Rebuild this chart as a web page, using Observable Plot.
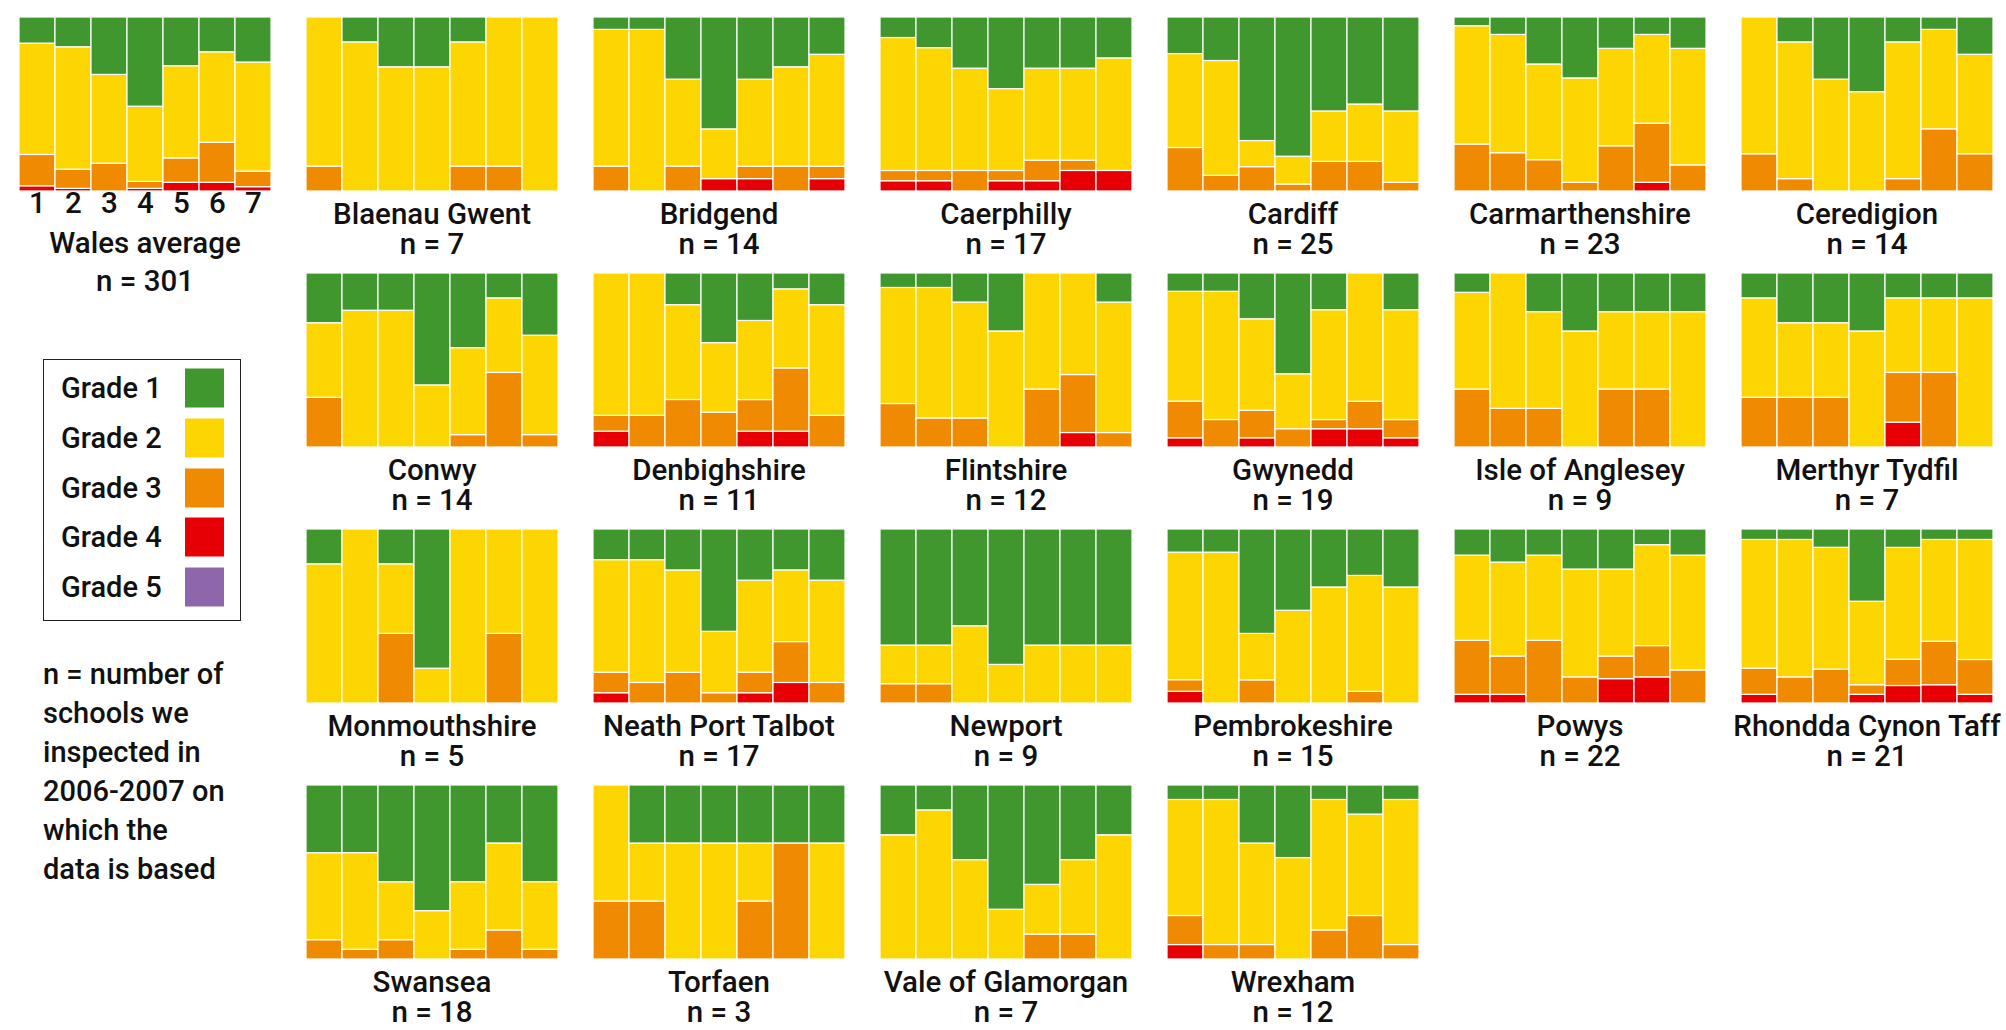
<!DOCTYPE html>
<html>
<head>
<meta charset="utf-8">
<script src="https://cdn.jsdelivr.net/npm/d3@7"></script>
<script src="https://cdn.jsdelivr.net/npm/@observablehq/plot@0.6"></script>
<style>
  html, body { margin: 0; padding: 0; background: #fff; }
  #wrap { position: relative; width: 2006px; height: 1030px; font-family: Roboto, "Noto Sans", sans-serif; font-weight: 500; color: #111; }
  #chart { position: absolute; left: 0; top: 0; }
  #legend { position: absolute; left: 43px; top: 359px; width: 198px; height: 262px; border: 1.5px solid #222; box-sizing: border-box; }
  .lg-text { position: absolute; left: 17px; font-size: 29px; line-height: 30px; transform: translateY(-50%); }
  .lg-sw { position: absolute; left: 141px; width: 39px; height: 39px; transform: translateY(-50%); }
  #note { position: absolute; left: 43px; top: 655px; font-size: 29px; line-height: 39px; }
</style>
</head>
<body>
<div id="wrap">
  <div id="chart"></div>
  <div id="legend"></div>
  <div id="note"></div>
</div>
<script>
// ---------- DATA ----------
const areas = ["Wales average","Blaenau Gwent","Bridgend","Caerphilly","Cardiff","Carmarthenshire","Ceredigion",
  "Conwy","Denbighshire","Flintshire","Gwynedd","Isle of Anglesey","Merthyr Tydfil",
  "Monmouthshire","Neath Port Talbot","Newport","Pembrokeshire","Powys","Rhondda Cynon Taff",
  "Swansea","Torfaen","Vale of Glamorgan","Wrexham"];
const schools = [301,7,14,17,25,23,14,14,11,12,19,9,7,5,17,9,15,22,21,18,3,7,12];
const inspectionAreas = [1,2,3,4,5,6,7];
const gradeNames = ["Grade 1","Grade 2","Grade 3","Grade 4","Grade 5"];
const gradeColors = ["#3f972d","#fdd500","#f08a00","#e60005","#8e66ac"];
const noteLines = ["n = number of","schools we","inspected in","2006-2007 on","which the","data is based"];

// percentage of schools per inspection area (1..7), one row per area
const grade1 = [
  [15,17,33,51,28,20,26],
  [0,14.3,28.6,28.6,14.3,0,0],
  [7.1,7.1,35.7,64.3,35.7,28.6,21.4],
  [11.8,17.6,29.4,41.2,29.4,29.4,23.5],
  [21,25,71,80,54,50,54],
  [5,10,27,35,18,10,18],
  [0,14.3,35.7,42.9,14.3,7.1,21.4],
  [28.6,21.4,21.4,64.3,42.9,14.3,35.7],
  [0,0,18.2,40,27.3,9.1,18.2],
  [8.3,8.3,16.7,33.3,0,0,16.7],
  [10.5,10.5,26.3,57.9,21.1,0,21.1],
  [11.1,0,22.2,33.3,22.2,22.2,22.2],
  [14.3,28.6,28.6,33.3,14.3,14.3,14.3],
  [20,0,20,80,0,0,0],
  [17.6,17.6,23.5,58.8,29.4,23.5,29.4],
  [66.7,66.7,55.6,77.8,66.7,66.7,66.7],
  [13.3,13.3,60,46.7,33.3,26.7,33.3],
  [15,19,15,23,23,9,15],
  [6,6,10.5,41.5,10.5,6,6],
  [38.9,38.9,55.6,72.2,55.6,33.3,55.6],
  [0,33.3,33.3,33.3,33.3,33.3,33.3],
  [28.6,14.3,42.9,71.4,57.1,42.9,28.6],
  [8.3,8.3,33.3,41.7,8.3,16.7,8.3]
];
const grade2 = [
  [64,70,51,43,53,52,63],
  [85.7,85.7,71.4,71.4,71.4,85.7,100],
  [78.6,92.9,50,28.6,50,57.1,64.3],
  [76.5,70.6,58.8,47.1,52.9,52.9,64.7],
  [54,66,15,16,29,33,41],
  [68,68,55,60,56,51,67],
  [78.6,78.6,64.3,57.1,78.6,57.1,57.1],
  [42.9,78.6,78.6,35.7,50,42.9,57.1],
  [81.8,81.8,54.5,40,45.5,45.5,63.6],
  [66.7,75,66.7,66.7,66.7,58.3,75],
  [63.2,73.7,52.6,31.6,63.2,73.7,63.2],
  [55.6,77.8,55.6,66.7,44.4,44.4,77.8],
  [57.1,42.9,42.9,66.7,42.9,42.9,85.7],
  [80,100,40,20,100,60,100],
  [64.7,70.6,58.8,35.3,52.9,41.2,58.8],
  [22.2,22.2,44.4,22.2,33.3,33.3,33.3],
  [73.3,86.7,26.7,53.3,66.7,66.7,66.7],
  [49,54,49,62,50,58,66],
  [74,79,70,48,64,58.5,69],
  [50,55.6,33.3,27.8,38.9,50,38.9],
  [66.7,33.3,66.7,66.7,33.3,0,66.7],
  [71.4,85.7,57.1,28.6,28.6,42.9,71.4],
  [66.7,83.3,58.3,58.3,75,58.3,83.3]
];
const grade3 = [
  [18,11,16,4,14,23,9],
  [14.3,0,0,0,14.3,14.3,0],
  [14.3,0,14.3,0,7.1,14.3,7.1],
  [5.9,5.9,11.8,5.9,11.8,5.9,0],
  [25,9,14,4,17,17,5],
  [27,22,18,5,26,34,15],
  [21.4,7.1,0,0,7.1,35.7,21.4],
  [28.6,0,0,0,7.1,42.9,7.1],
  [9.1,18.2,27.3,20,18.2,36.4,18.2],
  [25,16.7,16.7,0,33.3,33.3,8.3],
  [21.1,15.8,15.8,10.5,5.3,15.8,10.5],
  [33.3,22.2,22.2,0,33.3,33.3,0],
  [28.6,28.6,28.6,0,28.6,42.9,0],
  [0,0,40,0,0,40,0],
  [11.8,11.8,17.6,5.9,11.8,23.5,11.8],
  [11.1,11.1,0,0,0,0,0],
  [6.7,0,13.3,0,0,6.7,0],
  [31,22,36,15,13,18,19],
  [15,15,19.5,5.5,15,25,20],
  [11.1,5.6,11.1,0,5.6,16.7,5.6],
  [33.3,33.3,0,0,33.3,66.7,0],
  [0,0,0,0,14.3,14.3,0],
  [16.7,8.3,8.3,0,16.7,25,8.3]
];
const grade4 = [
  [3,1.5,0,1.5,5,5,2.5],
  [0,0,0,0,0,0,0],
  [0,0,0,7.1,7.1,0,7.1],
  [5.9,5.9,0,5.9,5.9,11.8,11.8],
  [0,0,0,0,0,0,0],
  [0,0,0,0,0,5,0],
  [0,0,0,0,0,0,0],
  [0,0,0,0,0,0,0],
  [9.1,0,0,0,9.1,9.1,0],
  [0,0,0,0,0,8.3,0],
  [5.3,0,5.3,0,10.5,10.5,5.3],
  [0,0,0,0,0,0,0],
  [0,0,0,0,14.3,0,0],
  [0,0,0,0,0,0,0],
  [5.9,0,0,0,5.9,11.8,0],
  [0,0,0,0,0,0,0],
  [6.7,0,0,0,0,0,0],
  [5,5,0,0,14,15,0],
  [5,0,0,5,10,10.5,5],
  [0,0,0,0,0,0,0],
  [0,0,0,0,0,0,0],
  [0,0,0,0,0,0,0],
  [8.3,0,0,0,0,0,0]
];
const grade5 = areas.map(() => [0,0,0,0,0,0,0]);

// ---------- BUILD ----------
const grades = [grade1, grade2, grade3, grade4, grade5];
const col = i => i === 0 ? 0 : ((i - 1) % 6) + 1;
const row = i => i === 0 ? 0 : Math.floor((i - 1) / 6);

const cells = [];
areas.forEach((area, i) => {
  inspectionAreas.forEach((ia, j) => {
    // bottom-up: grade 5 first so grade 1 ends on top
    for (let g = 4; g >= 0; g--) {
      const v = grades[g][i][j];
      if (v > 0) cells.push({area, c: col(i), r: row(i), ia, grade: gradeNames[g], value: v});
    }
  });
});

const labels = areas.map((a, i) => ({a, n: schools[i], c: col(i), r: row(i), i}));
const wales = labels.filter(d => d.i === 0);
const others = labels.filter(d => d.i !== 0);
const fontSize = 29.5;

const chart = Plot.plot({
  width: 2006,
  height: 1030,
  marginLeft: 13,
  marginRight: 7,
  marginTop: 15,
  marginBottom: 69,
  style: {fontFamily: "Roboto, 'Noto Sans', sans-serif", fontWeight: 500, background: "white", color: "#111"},
  fx: {domain: d3.range(7), paddingInner: 0.104, paddingOuter: 0, axis: null},
  fy: {domain: d3.range(4), paddingInner: 0.319, paddingOuter: 0, axis: null},
  x: {domain: inspectionAreas, padding: 0, axis: null},
  y: {domain: [0, 1], axis: null},
  color: {domain: gradeNames, range: gradeColors},
  marks: [
    Plot.barY(cells, Plot.stackY({
      offset: "normalize",
      x: "ia", y: "value", z: "grade", fill: "grade",
      fx: "c", fy: "r",
      stroke: "white", strokeWidth: 1.2
    })),
    Plot.text(inspectionAreas, {
      x: d => d, fx: () => 0, fy: () => 0,
      text: d => String(d), frameAnchor: "bottom", dy: 21,
      fontSize, fill: "#111"
    }),
    Plot.text(wales, {fx: "c", fy: "r", text: "a", frameAnchor: "bottom", dy: 61, fontSize, fill: "#111"}),
    Plot.text(wales, {fx: "c", fy: "r", text: d => `n = ${d.n}`, frameAnchor: "bottom", dy: 99, fontSize, fill: "#111"}),
    Plot.text(others, {fx: "c", fy: "r", text: "a", frameAnchor: "bottom", dy: 32, fontSize, fill: "#111"}),
    Plot.text(others, {fx: "c", fy: "r", text: d => `n = ${d.n}`, frameAnchor: "bottom", dy: 62, fontSize, fill: "#111"})
  ]
});
document.getElementById("chart").appendChild(chart);

// legend
const legend = document.getElementById("legend");
gradeNames.forEach((g, k) => {
  const cy = 28 + k * 49.8;
  const t = document.createElement("div");
  t.className = "lg-text"; t.style.top = cy + "px"; t.textContent = g;
  const s = document.createElement("div");
  s.className = "lg-sw"; s.style.top = cy + "px"; s.style.background = gradeColors[k];
  legend.appendChild(t); legend.appendChild(s);
});
document.getElementById("note").innerHTML = noteLines.map(l => `<div>${l}</div>`).join("");
</script>
</body>
</html>
